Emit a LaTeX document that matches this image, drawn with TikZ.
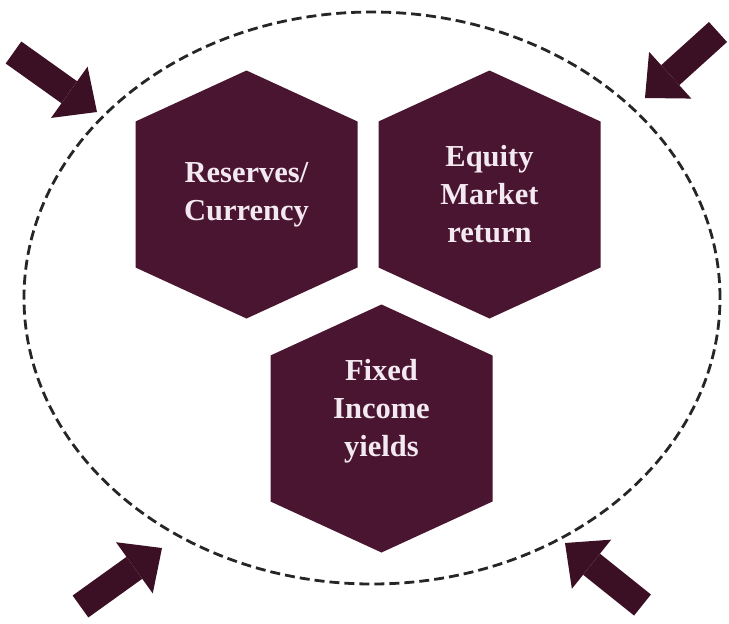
\documentclass[tikz,border=0pt]{standalone}
\usepackage{fontspec}
\setmainfont{Liberation Serif}
\usetikzlibrary{arrows.meta,positioning,shapes.geometric}
\definecolor{wine}{HTML}{4A1531}
\definecolor{darkwine}{HTML}{3C1024}
\definecolor{paletext}{HTML}{F3E9F0}
\tikzset{
board/.style={x=1pt,y=-1pt},
hexagon/.pic={\fill[wine] (0,-124) -- (111,-73) -- (111,73) -- (0,124) -- (-111,73) -- (-111,-73) -- cycle;},
hextext/.style={text=paletext,font=\bfseries\fontsize{30.5}{38}\selectfont,align=center},
ring/.style={ellipse,draw=black!85,line width=2.8pt,dash pattern=on 10pt off 5pt,
minimum width=696pt,minimum height=572pt,inner sep=0pt},
push/.style={draw=darkwine,line width=27pt,
-{Triangle[length=34pt,width=63pt,line width=0pt]}},
}

\begin{document}
\begin{tikzpicture}[board]
  \useasboundingbox (0,0) rectangle (729,624);

  \node[ring] (scope) at (372,298) {};

  \pic at (246.5,194.5) {hexagon};
  \pic at (489.5,194.5) {hexagon};
  \pic at (381.5,428.5) {hexagon};

  \node[hextext] (reserves) at (246.5,194.5) {Reserves/\\Currency};
  \node[hextext] (equity) at (489.5,194.5) {Equity\\Market\\return};
  \node[hextext] (fixed) at (381.5,411) {Fixed\\Income\\yields};

  % arrows pressing on the ring
  \coordinate (nw tail) at (13.5,52.5);
  \coordinate (nw tip) at (97,112);
  \coordinate (ne tail) at (718,32);
  \coordinate (ne tip) at (645,98);
  \coordinate (sw tail) at (80.5,606.5);
  \coordinate (sw tip) at (162,548);
  \coordinate (se tail) at (642.5,605);
  \coordinate (se tip) at (565,543);

  \draw[push] (nw tail) -- (nw tip);
  \draw[push] (ne tail) -- (ne tip);
  \draw[push] (sw tail) -- (sw tip);
  \draw[push] (se tail) -- (se tip);
\end{tikzpicture}
\end{document}
